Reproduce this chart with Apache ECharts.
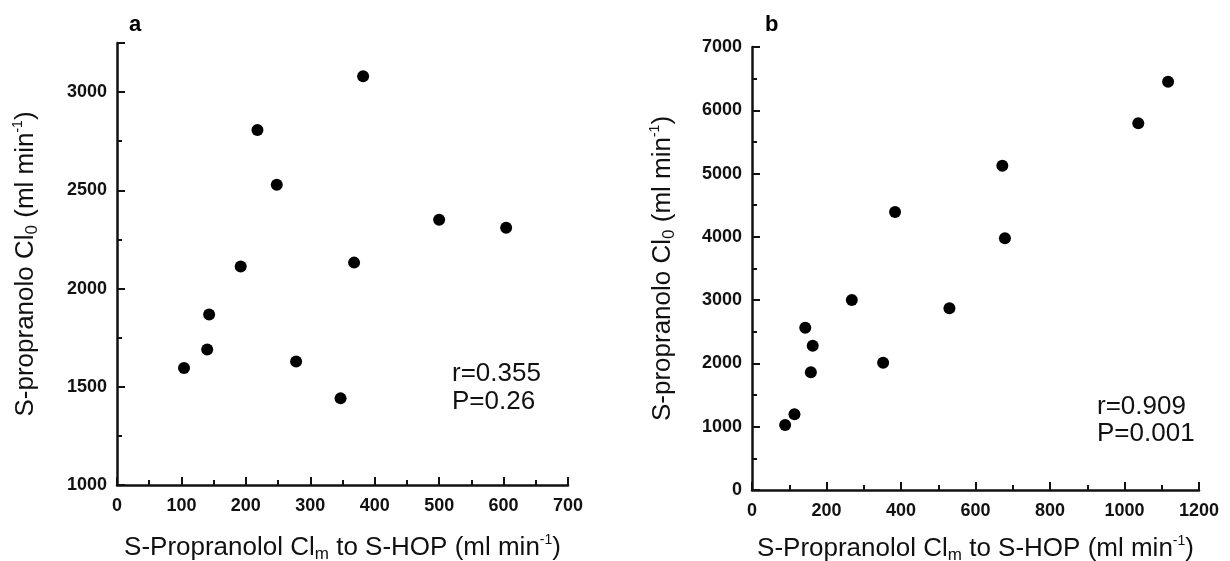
<!DOCTYPE html>
<html>
<head>
<meta charset="utf-8">
<script src="https://cdn.jsdelivr.net/npm/echarts@6/dist/echarts.min.js"></script>
<style>
  html, body { margin: 0; padding: 0; background: #fff; }
  #chart { width: 1230px; height: 561px; }
</style>
</head>
<body>
<div id="chart"></div>
<script>
// panel a: S-propranolol Clm to S-HOP vs Cl0
const clmA = [104, 140, 143, 192, 218, 248, 278, 382, 368, 347, 500, 604];
const cl0A = [1595, 1690, 1868, 2112, 2807, 2528, 1629, 3081, 2132, 1441, 2350, 2310];
// panel b
const clmB = [89, 114, 143, 163, 158, 268, 352, 384, 530, 672, 679, 1037, 1117];
const cl0B = [1027, 1196, 2565, 2280, 1860, 3002, 2012, 4392, 2871, 5124, 3977, 5794, 6451];

const statsA = ['r=0.355', 'P=0.26'];
const statsB = ['r=0.909', 'P=0.001'];

const font = '"Liberation Sans", Arial, Helvetica, sans-serif';

const nameRich = {
  t: { fontSize: 26, fontFamily: font, color: '#111', lineHeight: 30 },
  sub: { fontSize: 17, fontFamily: font, color: '#111', lineHeight: 15, verticalAlign: 'bottom' },
  sup: { fontSize: 14, fontFamily: font, color: '#111', lineHeight: 13, verticalAlign: 'top' }
};
const xName = '{t|S-Propranolol Cl}{sub|m}{t| to S-HOP (ml min}{sup|-1}{t|)}';
const yName = '{t|S-propranolo Cl}{sub|0}{t| (ml min}{sup|-1}{t|)}';

function axisCommon() {
  return {
    type: 'value',
    splitLine: { show: false },
    axisLine: { show: true, onZero: false, lineStyle: { color: '#111', width: 2.5 } },
    axisTick: { show: true, inside: true, length: 8, lineStyle: { color: '#111', width: 2 } },
    minorTick: { show: true, splitNumber: 2, length: 5, lineStyle: { color: '#111', width: 2 } },
    axisLabel: {
      color: '#111', fontSize: 18, fontWeight: 'bold', fontFamily: font, margin: 12,
      formatter: v => String(v)
    },
    nameLocation: 'middle',
    nameTextStyle: { rich: nameRich }
  };
}

const chart = echarts.init(document.getElementById('chart'));
chart.setOption({
  animation: false,
  backgroundColor: '#fff',
  grid: [
    { left: 117, right: 662, top: 43, bottom: 76, containLabel: false, outerBoundsMode: 'none' },
    { left: 752, right: 31, top: 47, bottom: 71, containLabel: false, outerBoundsMode: 'none' }
  ],
  xAxis: [
    Object.assign(axisCommon(), {
      gridIndex: 0, min: 0, max: 700, interval: 100,
      name: xName, nameGap: 48
    }),
    Object.assign(axisCommon(), {
      gridIndex: 1, min: 0, max: 1200, interval: 200,
      name: xName, nameGap: 44
    })
  ],
  yAxis: [
    Object.assign(axisCommon(), {
      gridIndex: 0, min: 1000, max: 3250, interval: 500,
      name: yName, nameGap: 76,
      axisLabel: {
        color: '#111', fontSize: 18, fontWeight: 'bold', fontFamily: font, margin: 10,
        formatter: v => (v % 500 === 0 ? String(v) : '')
      }
    }),
    Object.assign(axisCommon(), {
      gridIndex: 1, min: 0, max: 7000, interval: 1000,
      name: yName, nameGap: 74,
      axisLabel: {
        color: '#111', fontSize: 18, fontWeight: 'bold', fontFamily: font, margin: 10,
        formatter: v => String(v)
      }
    })
  ],
  series: [
    {
      type: 'scatter', xAxisIndex: 0, yAxisIndex: 0,
      symbolSize: 12, itemStyle: { color: '#000', opacity: 1 },
      data: clmA.map((x, i) => [x, cl0A[i]])
    },
    {
      type: 'scatter', xAxisIndex: 1, yAxisIndex: 1,
      symbolSize: 12, itemStyle: { color: '#000', opacity: 1 },
      data: clmB.map((x, i) => [x, cl0B[i]])
    }
  ],
  graphic: [
    { type: 'text', left: 129, top: 14, style: { text: 'a', font: 'bold 22px ' + font, fill: '#000' } },
    { type: 'text', left: 765, top: 14, style: { text: 'b', font: 'bold 22px ' + font, fill: '#000' } },
    { type: 'text', left: 452, top: 360, style: { text: statsA.join('\n'), font: '26px ' + font, fill: '#111', lineHeight: 28 } },
    { type: 'text', left: 1097, top: 393, style: { text: statsB.join('\n'), font: '26px ' + font, fill: '#111', lineHeight: 27 } }
  ]
});
</script>
</body>
</html>
